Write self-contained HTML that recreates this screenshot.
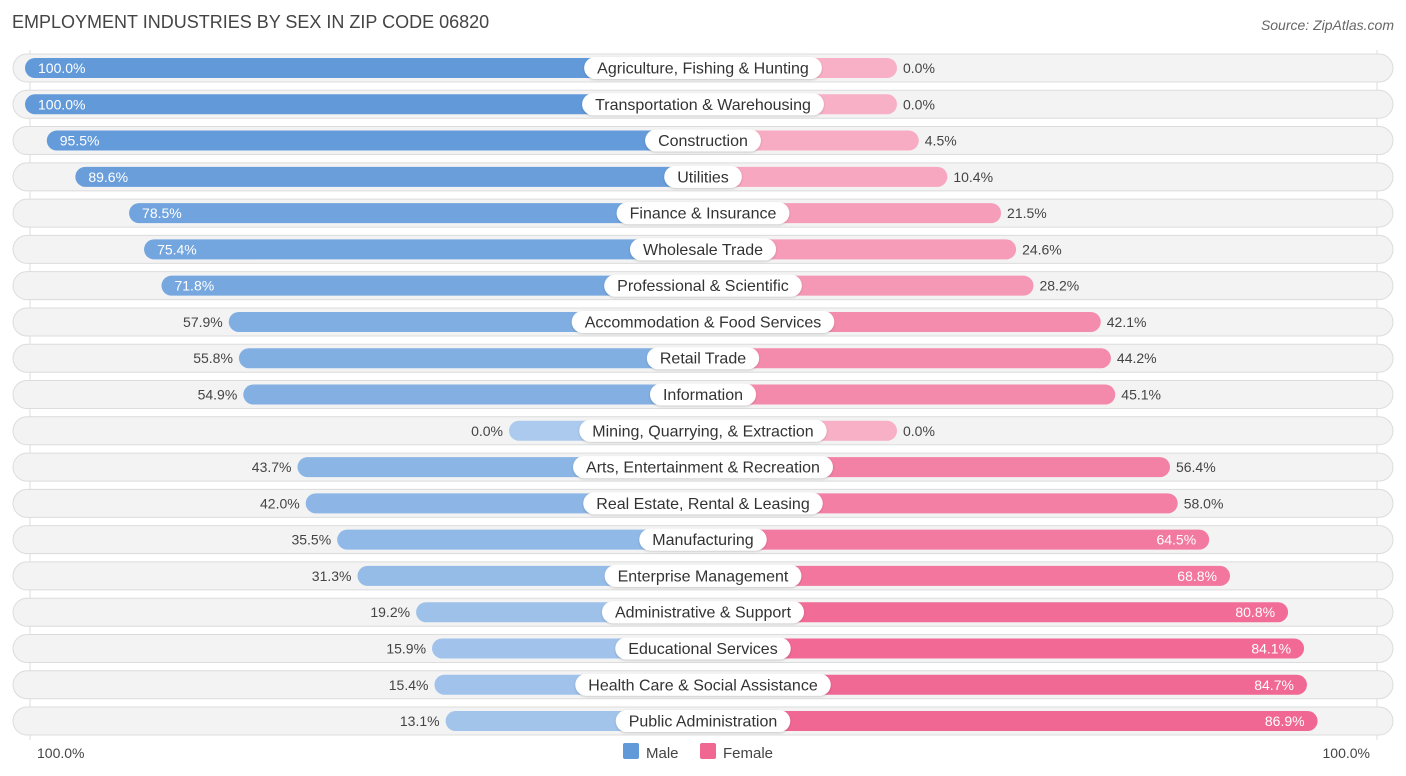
<!DOCTYPE html>
<html><head><meta charset="utf-8"><style>
body{margin:0;background:#fff;font-family:"Liberation Sans",sans-serif;}
#wrap{position:relative;width:1406px;height:776px;overflow:hidden;}
</style></head><body>
<div id="wrap">
<svg id="svg" width="1406" height="776" xmlns="http://www.w3.org/2000/svg">
<defs><filter id="sh" x="-5%" y="-30%" width="110%" height="160%"><feDropShadow dx="0" dy="1" stdDeviation="1" flood-color="#000" flood-opacity="0.18"/></filter></defs>
<text x="12" y="28" font-size="18" fill="#444">EMPLOYMENT INDUSTRIES BY SEX IN ZIP CODE 06820</text>
<text x="1394" y="30" font-size="14" fill="#666" font-style="italic" text-anchor="end">Source: ZipAtlas.com</text>
<line x1="30" y1="50" x2="30" y2="740" stroke="#ddd"/>
<line x1="1377" y1="50" x2="1377" y2="740" stroke="#ddd"/>
<g id="rows"></g>
<text x="37" y="758" font-size="14" fill="#444">100.0%</text>
<text x="1370" y="758" font-size="14" fill="#444" text-anchor="end">100.0%</text>
<rect x="623" y="743" width="16" height="16" rx="2" fill="#6199d9"/>
<text x="646" y="758" font-size="15" fill="#444">Male</text>
<rect x="700" y="743" width="16" height="16" rx="2" fill="#f06892"/>
<text x="723" y="758" font-size="15" fill="#444">Female</text>
</svg>
</div>
<script>
const categories=["Agriculture, Fishing & Hunting","Transportation & Warehousing","Construction","Utilities","Finance & Insurance","Wholesale Trade","Professional & Scientific","Accommodation & Food Services","Retail Trade","Information","Mining, Quarrying, & Extraction","Arts, Entertainment & Recreation","Real Estate, Rental & Leasing","Manufacturing","Enterprise Management","Administrative & Support","Educational Services","Health Care & Social Assistance","Public Administration"];
const maleValues=[100,100,95.5,89.6,78.5,75.4,71.8,57.9,55.8,54.9,0,43.7,42.0,35.5,31.3,19.2,15.9,15.4,13.1];
const femaleValues=[0,0,4.5,10.4,21.5,24.6,28.2,42.1,44.2,45.1,0,56.4,58.0,64.5,68.8,80.8,84.1,84.7,86.9];

const NS="http://www.w3.org/2000/svg";
const cx=703, base=194, scale=4.84;
function xLen(v){return base+scale*v;}
function rowY(i){return 68+i*36.28;}
function mix(a,b,t){return a.map((c,k)=>Math.round(c+(b[k]-c)*t));}
function rgb(c){return `rgb(${c[0]},${c[1]},${c[2]})`;}
const mLight=[172,202,238],mDark=[97,153,217],fLight=[248,176,198],fDark=[240,100,145];
const g=document.getElementById('rows');
function mk(tag,attrs){const e=document.createElementNS(NS,tag);for(const k in attrs)e.setAttribute(k,attrs[k]);return e;}
categories.forEach((cat,i)=>{
  const y=rowY(i);
  const bg=mk('rect',{x:13,y:y-14,width:1380,height:28,rx:14,fill:'#f3f3f3',stroke:'#dcdcdc','stroke-width':1});
  
  
  g.appendChild(bg);
  const m=maleValues[i],f=femaleValues[i];
  const ml=xLen(m),fl=xLen(f);
  const mb=mk('rect',{x:cx-ml,y:y-10,width:ml,height:20,rx:10,fill:rgb(mix(mLight,mDark,m/100))});
  
  
  g.appendChild(mb);
  const fb=mk('rect',{x:cx,y:y-10,width:fl,height:20,rx:10,fill:rgb(mix(fLight,fDark,f/90))});
  
  
  g.appendChild(fb);
  // label pill
  const t=mk('text',{x:cx,y:y+5.5,'font-size':16,fill:'#333','text-anchor':'middle'});
  t.textContent=cat;
  
  
  g.appendChild(t);
  const w=t.getComputedTextLength()+26;
  const pill=mk('rect',{x:cx-w/2,y:y-11,width:w,height:22,rx:11,fill:'#fff',filter:'url(#sh)'});
  
  
  g.insertBefore(pill,t);
  const mIn=m>=65;
  const mt=mk('text',{x:mIn?cx-ml+13:cx-ml-6,y:y+5,'font-size':14,fill:mIn?'#fff':'#444','text-anchor':mIn?'start':'end'});
  mt.textContent=m.toFixed(1)+'%';
  
  
  g.appendChild(mt);
  const fIn=f>=60;
  const ft=mk('text',{x:fIn?cx+fl-13:cx+fl+6,y:y+5,'font-size':14,fill:fIn?'#fff':'#444','text-anchor':fIn?'end':'start'});
  ft.textContent=f.toFixed(1)+'%';
  
  
  g.appendChild(ft);
});
</script>
</body></html>
